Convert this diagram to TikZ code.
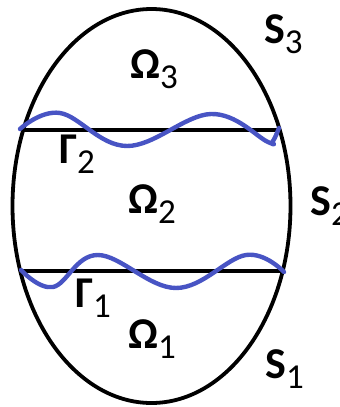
\documentclass[tikz,border=0pt]{standalone}
\usepackage{fontspec}
\setmainfont{Carlito}
\definecolor{wavecol}{RGB}{72,84,196}
\newcommand{\lbl}[2]{{\fontsize{44}{44}\selectfont\bfseries #1}\raisebox{-10pt}{\fontsize{35}{35}\selectfont #2}}
\tikzset{
  outline/.style={line width=3.8pt, black},
  cut/.style={line width=3.6pt, black},
  wave/.style={line width=4.4pt, wavecol, line cap=round, line join=round},
  lab/.style={inner sep=0pt, anchor=base west}
}
\begin{document}
\begin{tikzpicture}[x=1pt,y=-1pt]
\useasboundingbox (0,0) rectangle (340,407);
\draw[outline] (151.5,206) ellipse [x radius=139, y radius=197];
\coordinate (u1) at (22,130);
\coordinate (u2) at (280,130);
\coordinate (l1) at (20,271);
\coordinate (l2) at (283,271);
\draw[cut] (u1) -- (u2);
\draw[cut] (l1) -- (l2);
\draw[wave] plot[smooth, tension=0.65] coordinates {(20,129) (60,113) (127,146) (211,114) (268,142) (273,141) (279,128)};
\draw[wave] plot[smooth, tension=0.65] coordinates {(21,270) (53,287) (98,255) (176,288) (246,255) (284,272)};
\node[lab] (om3) at (130,78) {\lbl{Ω}{3}};
\node[lab] (s3) at (264,43) {\lbl{S}{3}};
\node[lab] (g2) at (59,163) {\lbl{Γ}{2}};
\node[lab] (om2) at (128,213) {\lbl{Ω}{2}};
\node[lab] (s2) at (310,215) {\lbl{S}{2}};
\node[lab] (g1) at (75,307) {\lbl{Γ}{1}};
\node[lab] (om1) at (128,348) {\lbl{Ω}{1}};
\node[lab] (s1) at (265,378) {\lbl{S}{1}};
\end{tikzpicture}
\end{document}
